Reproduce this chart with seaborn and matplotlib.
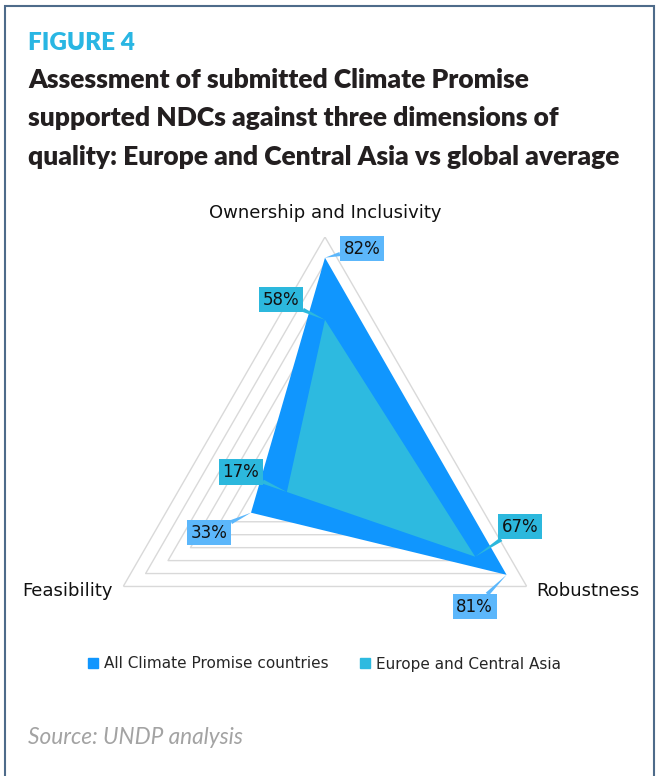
import numpy as np
import matplotlib
matplotlib.use("Agg")
import matplotlib.pyplot as plt
import seaborn as sns
from matplotlib.patches import Rectangle
from matplotlib.lines import Line2D

# data
dimensions = ["Ownership and Inclusivity", "Robustness", "Feasibility"]
all_cp = [0.82, 0.81, 0.33]
eca = [0.58, 0.67, 0.17]
series_names = ["All Climate Promise countries", "Europe and Central Asia"]
all_labels = ["82%", "81%", "33%"]
eca_labels = ["58%", "67%", "17%"]

sns.set_theme(style="white")
plt.rcParams['font.family'] = ['DejaVu Sans']

col_all = "#1096fe"
col_eca = "#2dbae0"
box_all = "#5cb7fb"
box_eca = "#2cb8dd"

fig = plt.figure(figsize=(6.56, 7.76), dpi=100)
ax = fig.add_axes([0.1402, 0.0941, 0.7104, 0.6005], projection="polar")
ax.set_theta_offset(np.pi / 2)
ax.set_theta_direction(-1)
ax.set_ylim(0, 0.9)
ax.set_axis_off()

theta = np.linspace(0, 2 * np.pi, len(dimensions), endpoint=False)
theta_c = np.append(theta, theta[0])

# triangular grid
for lvl in np.arange(0.1, 0.91, 0.1):
    ax.plot(theta_c, [lvl] * len(theta_c), color="#d9d9d9", lw=1, zorder=1)

ax.fill(theta_c, all_cp + all_cp[:1], color=col_all, lw=0, zorder=2)
ax.fill(theta_c, eca + eca[:1], color=col_eca, lw=0, zorder=3)

# callouts (offsets in pixels)
all_off = [(37, 9), (-32, -32), (-42, -20)]
eca_off = [(-44, 20), (45, 30), (-46, 20)]
for vals, labs, offs, bc in [(all_cp, all_labels, all_off, box_all),
                             (eca, eca_labels, eca_off, box_eca)]:
    for t, v, lab, off in zip(theta, vals, labs, offs):
        ax.annotate(lab, xy=(t, v), xytext=off, textcoords="offset pixels",
                    ha="center", va="center", fontsize=12, color="#111111",
                    bbox=dict(boxstyle="square,pad=0.22", fc=bc, ec="none"),
                    arrowprops=dict(arrowstyle="wedge,tail_width=0.25", fc=bc,
                                    ec="none", shrinkA=0, shrinkB=0),
                    zorder=5)

# axis labels
ax.annotate(dimensions[0], xy=(theta[0], 0.9), xytext=(0, 24), textcoords="offset pixels",
            ha="center", va="center", fontsize=13, color="#111111")
ax.annotate(dimensions[1], xy=(theta[1], 0.9), xytext=(9, -5), textcoords="offset pixels",
            ha="left", va="center", fontsize=13, color="#111111")
ax.annotate(dimensions[2], xy=(theta[2], 0.9), xytext=(-10, -5), textcoords="offset pixels",
            ha="right", va="center", fontsize=13, color="#111111")

# legend
handles = [Line2D([], [], marker="s", ls="", color=col_all, markersize=7),
           Line2D([], [], marker="s", ls="", color=col_eca, markersize=7)]
fig.legend(handles, series_names, loc="center", bbox_to_anchor=(324 / 656, 1 - 664 / 776),
           ncol=2, frameon=False, fontsize=11, handletextpad=0.3, columnspacing=2.0,
           handlelength=0.8)

# titles
fig.text(28 / 656, 1 - 43 / 776, "FIGURE 4", fontsize=17.5, fontweight="heavy",
         color="#29b6e3", family="Lato", va="center")
title_lines = ["Assessment of submitted Climate Promise",
               "supported NDCs against three dimensions of",
               "quality: Europe and Central Asia vs global average"]
for i, line in enumerate(title_lines):
    fig.text(28 / 656, 1 - (80 + 38.5 * i) / 776, line, fontsize=19, fontweight="heavy",
             color="#231f20", family="Lato", va="center")

fig.text(28 / 656, 1 - 738 / 776, "Source: UNDP analysis", fontsize=16.3, style="italic",
         fontweight="normal", color="#a3a3a3", family="Lato", va="center")

# frame
fig.patches.append(Rectangle((5 / 656, -0.02), 649 / 656, (770 / 776) + 0.02,
                             transform=fig.transFigure, fill=False, ec="#4e6b8a", lw=1.5))

fig.savefig("out.png", dpi=100)
